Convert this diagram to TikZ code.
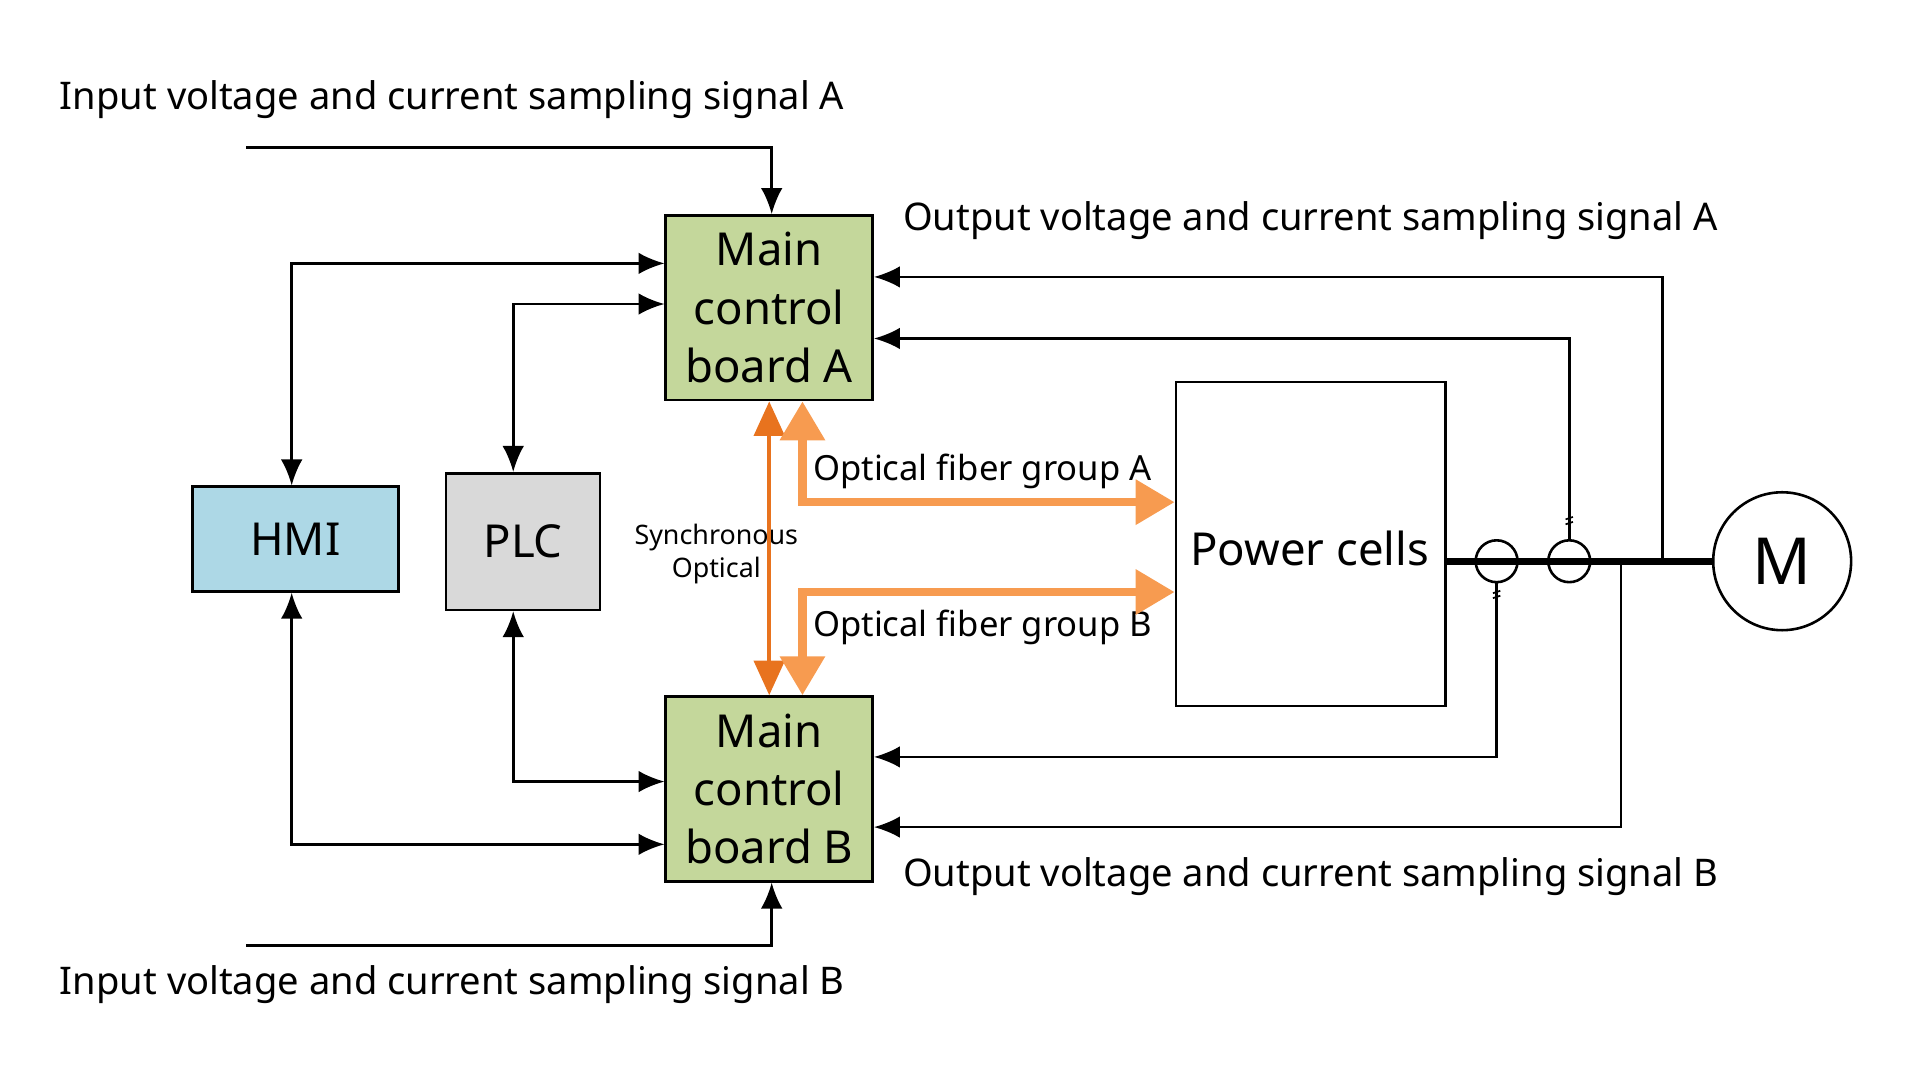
\documentclass[tikz,border=0pt]{standalone}
\usepackage{fontspec}
\setmainfont{Noto Sans}
\usetikzlibrary{arrows.meta,positioning}
\definecolor{boardgreen}{HTML}{C4D79B}
\definecolor{hmiblue}{HTML}{ADD8E6}
\definecolor{plcgray}{HTML}{D9D9D9}
\definecolor{fiber}{HTML}{F79B50}
\definecolor{syncor}{HTML}{E8731E}
\begin{document}
\begin{tikzpicture}[
    x=0.01cm, y=-0.01cm,
    box/.style={draw, semithick, inner sep=0pt, font=\fontsize{10.5}{13.5}\selectfont, align=center},
    lbl/.style={font=\fontsize{8.8}{10}\selectfont, inner sep=0pt},
    sig/.style={semithick, -{Latex[length=6pt,width=5pt]}},
    bisig/.style={semithick, {Latex[length=6pt,width=5pt]}-{Latex[length=6pt,width=5pt]}},
    fib/.style={line width=2pt, fiber, {Triangle[length=9pt,width=10pt]}-{Triangle[length=9pt,width=10pt]}},
    ct/.style={draw, semithick, circle, minimum size=0.34cm, inner sep=0pt}
]
\useasboundingbox (0,0) rectangle (1560,878);
% blocks
\node[box, fill=boardgreen, minimum width=1.68cm, minimum height=1.5cm] (mcbA) at (625,250) {Main\\control\\board A};
\node[box, fill=boardgreen, minimum width=1.68cm, minimum height=1.5cm] (mcbB) at (625,641) {Main\\control\\board B};
\node[box, fill=hmiblue, minimum width=1.67cm, minimum height=0.85cm] (hmi) at (240,438) {HMI};
\node[box, fill=plcgray, minimum width=1.25cm, minimum height=1.11cm] (plc) at (425,440) {PLC};
\node[box, minimum width=2.19cm, minimum height=2.63cm] (cells) at (1065,442) {};
\node[box, draw=none, anchor=west] (cellstxt) at (966,446) {Power cells};
\node[box, circle, minimum size=1.12cm, font=\fontsize{15}{18}\selectfont] (motor) at (1448,456) {M};
\node[ct] (ct1) at (1216,456) {};
\node[ct] (ct2) at (1275,456) {};
% labels
\node[lbl, anchor=west] (inA) at (48,81) {Input voltage and current sampling signal A};
\node[lbl, anchor=west] (inB) at (48,800) {Input voltage and current sampling signal B};
\node[lbl, anchor=west] (outA) at (733,179) {Output voltage and current sampling signal A};
\node[lbl, anchor=west] (outB) at (733,712) {Output voltage and current sampling signal B};
\node[lbl, anchor=west, font=\fontsize{8}{10}\selectfont] (fibA) at (660,383) {Optical fiber group A};
\node[lbl, anchor=west, font=\fontsize{8}{10}\selectfont] (fibB) at (660,510) {Optical fiber group B};
\node[lbl, align=center, font=\fontsize{6.2}{7.6}\selectfont] (sync) at (582,450) {Synchronous\\Optical};
% bus
\draw[line width=1.6pt] (cells.east |- 0,456) -- (motor.west);
\coordinate (tapA) at (1351,456);
\coordinate (tapB) at (1317,456);
% input signals
\draw[sig] (200,120) -| (mcbA.north -| 627,0);
\draw[sig] (200,768) -| (mcbB.south -| 627,0);
% hmi / plc links
\draw[bisig] (hmi.north -| 237,0) |- (mcbA.west |- 0,214);
\draw[bisig] (plc.north -| 417,0) |- (mcbA.west |- 0,247);
\draw[bisig] (hmi.south -| 237,0) |- (mcbB.west |- 0,686);
\draw[bisig] (plc.south -| 417,0) |- (mcbB.west |- 0,635);
% output feedback
\draw[sig] (tapA) |- (mcbA.east |- 0,225);
\draw[sig] (ct2.north) |- (mcbA.east |- 0,275);
\draw[sig] (ct1.south) |- (mcbB.east |- 0,615);
\draw[sig] (tapB) |- (mcbB.east |- 0,672);
% ct marks
\foreach \cx/\cy in {1275/425, 1216/485}
  \draw[thin] (\cx-3,\cy-3) -- (\cx+3,\cy-5) (\cx-3,\cy+1) -- (\cx+3,\cy-1);
% optical links
\draw[line width=1pt, syncor, {Triangle[length=8pt,width=7pt]}-{Triangle[length=8pt,width=7pt]}] (mcbA.south -| 625,0) -- (mcbB.north -| 625,0);
\draw[fib] (mcbA.south -| 652,0) |- (cells.west |- 0,408);
\draw[fib] (cells.west |- 0,481) -| (mcbB.north -| 652,0);
\end{tikzpicture}
\end{document}
